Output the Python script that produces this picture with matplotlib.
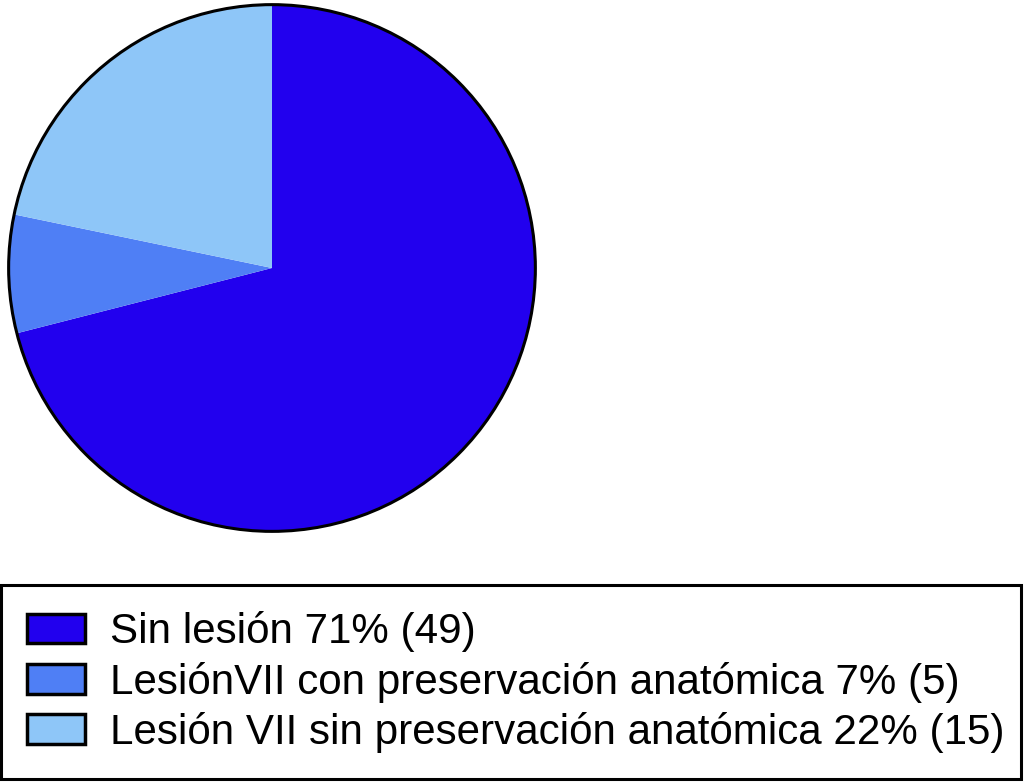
import matplotlib.pyplot as plt
from matplotlib.patches import Circle

# Данные
labels = ['Sin lesión 71% (49)',
          'LesiónVII con preservación anatómica 7% (5)',
          'Lesión VII sin preservación anatómica 22% (15)']
counts = [49, 5, 15]
colors = ['#2200ee', '#4f7ff5', '#8ec6f8']

plt.rcParams['font.family'] = ['Liberation Sans', 'DejaVu Sans']

fig = plt.figure(figsize=(10.24, 7.82), dpi=100)

# Круговая диаграмма
ax = fig.add_axes([6 / 1024, 248 / 782, 532 / 1024, 532 / 782])
wedges, _ = ax.pie(counts, colors=colors, startangle=90, counterclock=False,
                   radius=1, wedgeprops=dict(linewidth=0))
ax.add_patch(Circle((0, 0), 1, fill=False, edgecolor='black', linewidth=2.2))
ax.set_xlim(-1.01, 1.01)
ax.set_ylim(-1.01, 1.01)
ax.set_aspect('equal')
ax.axis('off')

# Легенда
leg = fig.legend(wedges, labels, loc='lower left',
                 bbox_to_anchor=(1 / 1024, 3 / 782, 1020 / 1024, 193 / 782),
                 mode='expand', fontsize=30.3, frameon=True, fancybox=False,
                 edgecolor='black', framealpha=1, handlelength=1.38,
                 handleheight=0.7, handletextpad=0.58, labelspacing=0.22,
                 borderpad=0.62, borderaxespad=0.0)
leg.get_frame().set_linewidth(2.2)
for h in leg.legend_handles:
    h.set_linewidth(2.5)
    h.set_edgecolor('black')

fig.savefig('out.png', dpi=100)
